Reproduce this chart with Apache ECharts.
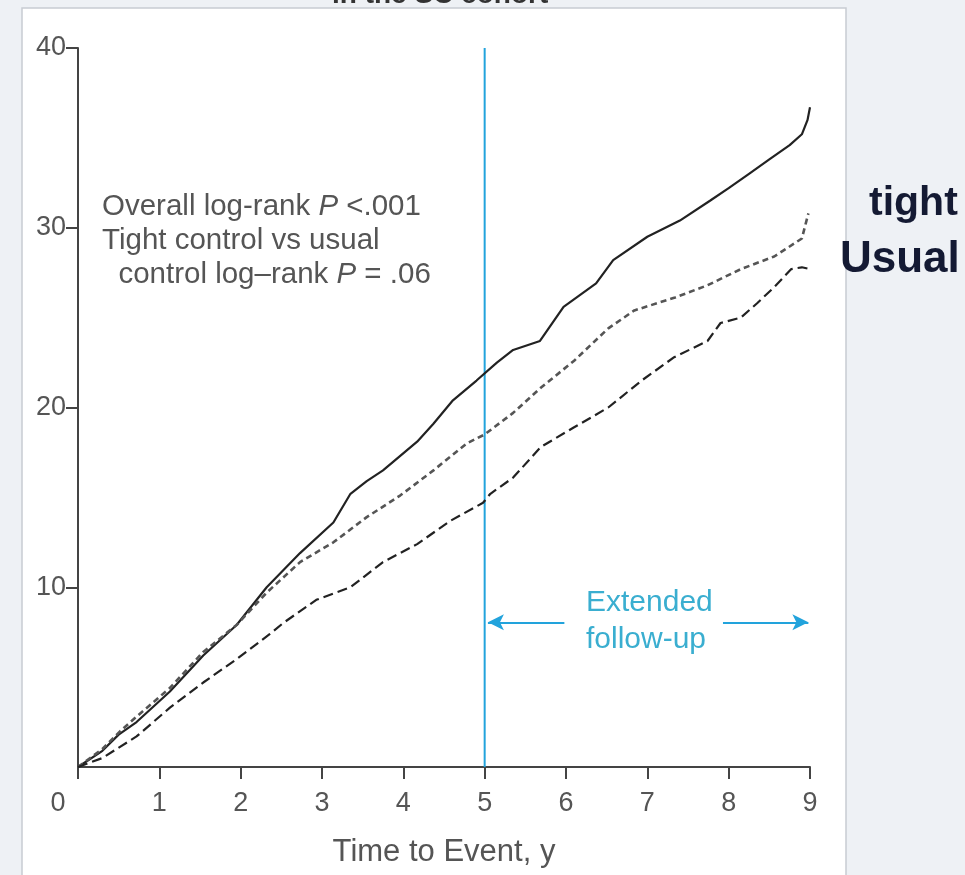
<!DOCTYPE html>
<html><head><meta charset="utf-8">
<script src="https://cdn.jsdelivr.net/npm/echarts@6/dist/echarts.min.js"></script>
<style>html,body{margin:0;padding:0;background:#eef1f5}#c{width:965px;height:875px}</style>
</head><body><div id="c"></div>
<script>
// Cumulative incidence (%)
const solidYears = [0,0.3,0.5,0.72,1.13,1.54,1.95,2.32,2.73,3.14,3.35,3.55,3.75,4.17,4.37,4.61,4.9,5.15,5.35,5.68,5.97,6.37,6.58,7,7.4,7.77,8,8.25,8.5,8.75,8.9,8.97,9];
const solidVals  = [0,0.9,1.8,2.5,4.2,6.2,7.9,10.0,11.9,13.6,15.2,15.9,16.5,18.1,19.1,20.4,21.5,22.5,23.2,23.7,25.6,26.9,28.2,29.5,30.4,31.5,32.2,33.0,33.8,34.6,35.2,36.0,36.7];
const tightYears = [0,0.3,0.52,0.72,1.13,1.54,1.95,2.32,2.73,3.14,3.55,3.96,4.37,4.78,5.0,5.35,5.69,6.1,6.52,6.84,7.33,7.74,8.15,8.56,8.73,8.9,8.98];
const tightVals  = [0,1.0,2.0,2.8,4.4,6.4,7.9,9.7,11.4,12.5,13.9,15.1,16.5,18.0,18.5,19.7,21.1,22.6,24.4,25.4,26.1,26.8,27.7,28.4,28.9,29.4,30.8];
const usualYears = [0,0.3,0.72,1.13,1.54,1.95,2.36,2.52,2.93,3.35,3.75,4.17,4.58,4.98,5.07,5.35,5.69,6.1,6.52,6.93,7.33,7.74,7.9,8.15,8.35,8.56,8.77,8.9,9];
const usualVals  = [0,0.5,1.7,3.3,4.7,6.0,7.4,8.0,9.3,10.0,11.4,12.4,13.7,14.7,15.2,16.1,17.8,18.9,20.0,21.5,22.8,23.7,24.7,25.0,25.8,26.7,27.7,27.8,27.7];
const xTicks = [0,1,2,3,4,5,6,7,8,9];
const yTicks = [0,10,20,30,40];
const cutoffYear = 5;

const FONT = "'Liberation Sans Narrow','Liberation Sans',Arial,sans-serif";
const GRAY = '#555';
const BLUE = '#22a3dc';

function pairs(xs, ys){ return xs.map((x,i)=>[x,ys[i]]); }

const chart = echarts.init(document.getElementById('c'));
chart.setOption({
  backgroundColor: '#eef1f5',
  animation: false,
  graphic: [
    {type:'rect', z:-10, shape:{x:22,y:8,width:824,height:880}, style:{fill:'#ffffff', stroke:'#c8ccd2', lineWidth:1.5}},
    {type:'text', left:332, top:-19, style:{text:'in the SC cohort', font:"bold 28px 'Liberation Sans',Arial", fill:'#333'}},
    {type:'text', left:102, top:190, style:{
      text:'Overall log-rank {i|P} <.001\nTight control vs usual\n  control log–rank {i|P} = .06',
      font:"29.5px "+FONT, fill:GRAY, lineHeight:34,
      rich:{i:{fontStyle:'italic', fontSize:29.5, fontFamily:FONT, fill:GRAY, lineHeight:34}}}},
    {type:'text', left:869, top:183, style:{text:'tight', font:"bold 41px 'Liberation Sans',Arial", fill:'#141a33'}},
    {type:'text', left:840, top:238, style:{text:'Usual', font:"bold 44px 'Liberation Sans',Arial", fill:'#141a33'}},
    {type:'text', left:586, top:584, style:{text:'Extended\nfollow-up', font:"30px "+FONT, fill:'#3aaed0', align:'center', lineHeight:37, width:126}}
  ],
  grid: {left:78, right:155, top:48, bottom:108},
  xAxis: {
    type:'value', min:0, max:9, interval:1,
    name:'Time to Event, y', nameLocation:'middle', nameGap:70,
    nameTextStyle:{fontSize:31, color:GRAY, fontFamily:FONT},
    axisLine:{lineStyle:{color:'#444', width:2}},
    axisTick:{length:12, lineStyle:{color:'#444', width:2}},
    splitLine:{show:false},
    axisLabel:{margin:23, fontSize:27, color:GRAY, fontFamily:FONT,
      formatter:v=> v===0 ? '{z|0}' : String(v),
      rich:{z:{fontSize:27, color:GRAY, fontFamily:FONT, padding:[0,40,0,0]}}}
  },
  yAxis: {
    type:'value', min:0, max:40, interval:10,
    axisLine:{show:true, lineStyle:{color:'#444', width:2}},
    axisTick:{show:true, length:12, lineStyle:{color:'#444', width:2}},
    splitLine:{show:false},
    axisLabel:{margin:12, fontSize:27, color:GRAY, fontFamily:FONT, showMinLabel:false,
      formatter:v=> v===0 ? '' : String(v)}
  },
  series: [
    {name:'Solid', type:'line', data:pairs(solidYears, solidVals), symbol:'none', lineStyle:{color:'#222', width:2.2}},
    {name:'Tight control', type:'line', data:pairs(tightYears, tightVals), symbol:'none', lineStyle:{color:'#555', width:2.6, type:[6,4]}},
    {name:'Usual control', type:'line', data:pairs(usualYears, usualVals), symbol:'none', lineStyle:{color:'#222', width:2.2, type:[10,5]}},
    {name:'Cutoff', type:'line', data:[[cutoffYear,0],[cutoffYear,40]], symbol:'none', z:1,
      lineStyle:{color:BLUE, width:2},
      markLine:{silent:true, symbol:['arrow','none'], symbolSize:[12,16], label:{show:false},
        lineStyle:{color:BLUE, width:2, type:'solid'},
        data:[
          [{coord:[5.04,8.05], symbol:'arrow'},{coord:[5.98,8.05], symbol:'none'}],
          [{coord:[8.98,8.05], symbol:'arrow'},{coord:[7.93,8.05], symbol:'none'}]
        ]}}
  ]
});
</script></body></html>
